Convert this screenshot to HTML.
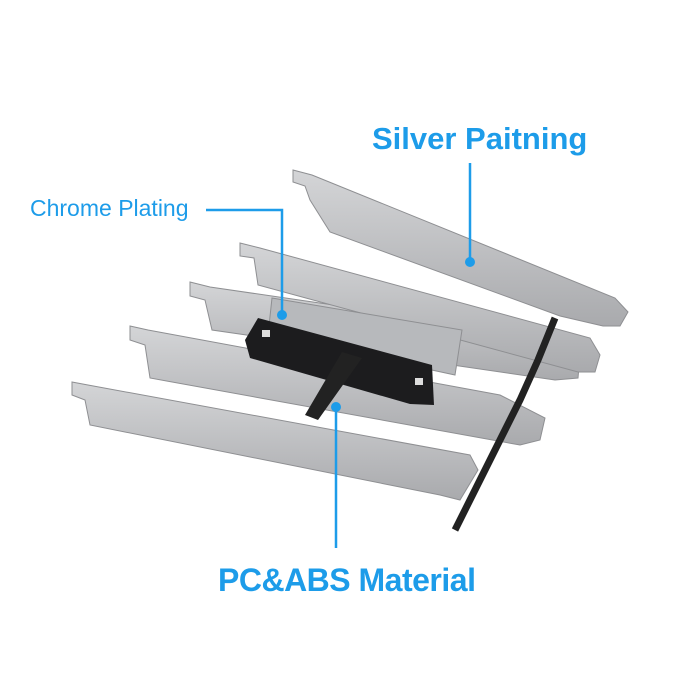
<!DOCTYPE html>
<html><head><style>
body{margin:0;background:#fff}
.t{position:absolute;color:#1d9ce9;font-family:"Liberation Sans",sans-serif;white-space:nowrap}
</style></head><body>
<div style="position:relative;width:700px;height:700px;overflow:hidden">
<svg width="700" height="700" style="position:absolute;left:0;top:0">
<defs>
<linearGradient id="g" x1="0" y1="0" x2="0" y2="1"><stop offset="0" stop-color="#d4d5d7"/><stop offset="1" stop-color="#a9aaad"/></linearGradient>
</defs>
<g stroke="#8e8f92" stroke-width="1" fill="url(#g)">
<polygon points="72,382 88,385 470,455 478,470 460,500 440,495 90,425 85,400 72,395"/>
<polygon points="130,326 148,330 500,395 545,418 540,440 520,445 150,378 145,345 130,340"/>
<polygon points="190,282 210,287 505,330 580,355 578,378 555,380 212,330 205,300 190,296"/>
<polygon points="240,243 260,248 590,338 600,355 595,372 578,372 258,285 254,258 240,256"/>
<polygon points="272,298 462,330 455,375 268,335" fill="#b7b9bc"/>
<polygon points="293,170 312,175 615,298 628,312 620,326 603,326 560,316 330,232 310,200 305,186 293,182"/>
</g>
<polygon points="258,318 432,365 434,405 410,404 250,358 245,340" fill="#1c1c1e"/>
<polygon points="342,352 362,358 318,420 305,415" fill="#222"/>
<rect x="262" y="330" width="8" height="7" fill="#ddd"/>
<rect x="415" y="378" width="8" height="7" fill="#ddd"/>
<polyline points="555,318 538,360 520,400 500,440 480,480 455,530" stroke="#222" stroke-width="7" fill="none"/>
<g stroke="#1d9ce9" stroke-width="2.5" fill="none">
<polyline points="206,210 282,210 282,315"/>
<line x1="470" y1="163" x2="470" y2="262"/>
<line x1="336" y1="407" x2="336" y2="548"/>
</g>
<g fill="#1d9ce9"><circle cx="282" cy="315" r="5"/><circle cx="470" cy="262" r="5"/><circle cx="336" cy="407" r="5"/></g>
</svg>
<div class="t" style="left:372px;top:121px;font-size:31px;font-weight:bold">Silver Paitning</div>
<div class="t" style="left:30px;top:195px;font-size:23px">Chrome Plating</div>
<div class="t" style="left:218px;top:562px;font-size:32px;font-weight:bold;letter-spacing:-0.5px">PC&amp;ABS Material</div>
</div>
</body></html>
